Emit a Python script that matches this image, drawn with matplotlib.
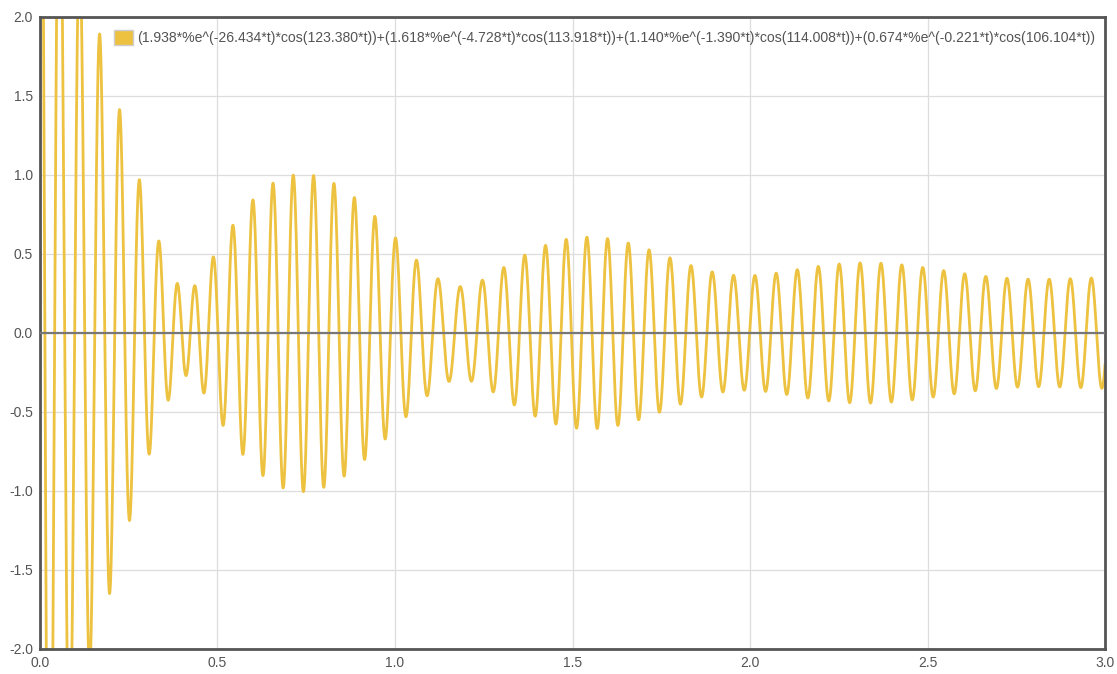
import numpy as np
import matplotlib.pyplot as plt
from matplotlib.patches import Patch

plt.rcParams['font.family'] = ['Liberation Sans', 'DejaVu Sans']

# damped cosine terms: amplitude, decay rate, angular frequency
amps = [1.938, 1.618, 1.140, 0.674]
decays = [26.434, 4.728, 1.390, 0.221]
freqs = [123.380, 113.918, 114.008, 106.104]

xticks = [0.0, 0.5, 1.0, 1.5, 2.0, 2.5, 3.0]
yticks = [-2.0, -1.5, -1.0, -0.5, 0.0, 0.5, 1.0, 1.5, 2.0]

t = np.linspace(0, 3, 6000)
y = np.zeros_like(t)
for a, d, w in zip(amps, decays, freqs):
    y += a * np.exp(-d * t) * np.cos(w * t)

label = '+'.join('(%.3f*%%e^(-%.3f*t)*cos(%.3f*t))' % (a, d, w)
                 for a, d, w in zip(amps, decays, freqs))

fig = plt.figure(figsize=(11.17, 6.74), dpi=100)
ax = fig.add_axes([0.0358, 0.0371, 0.9535, 0.9377])
col = '#EDC240'
ax.plot(t, y, color=col, lw=2.0, zorder=2)
ax.axhline(0, color='#777777', lw=1.6, zorder=3)

ax.set_xlim(0, 3)
ax.set_ylim(-2, 2)
ax.set_xticks(xticks)
ax.set_yticks(yticks)
ax.set_xticklabels(['%.1f' % v for v in xticks])
ax.set_yticklabels(['%.1f' % v for v in yticks])
ax.grid(True, color='#dddddd', lw=0.9, zorder=0)
ax.tick_params(length=0, labelsize=10, colors='#545454', pad=5)
for s in ax.spines.values():
    s.set_color('#555555')
    s.set_linewidth(2)

leg = ax.legend(handles=[Patch(facecolor=col, edgecolor='#cccccc', label=label)],
                loc='upper left', bbox_to_anchor=(0.058, 1.0), frameon=False,
                fontsize=10.1, handlelength=1.3, handleheight=1.3, handletextpad=0.3,
                labelcolor='#545454')

fig.savefig('out.png', dpi=100)
